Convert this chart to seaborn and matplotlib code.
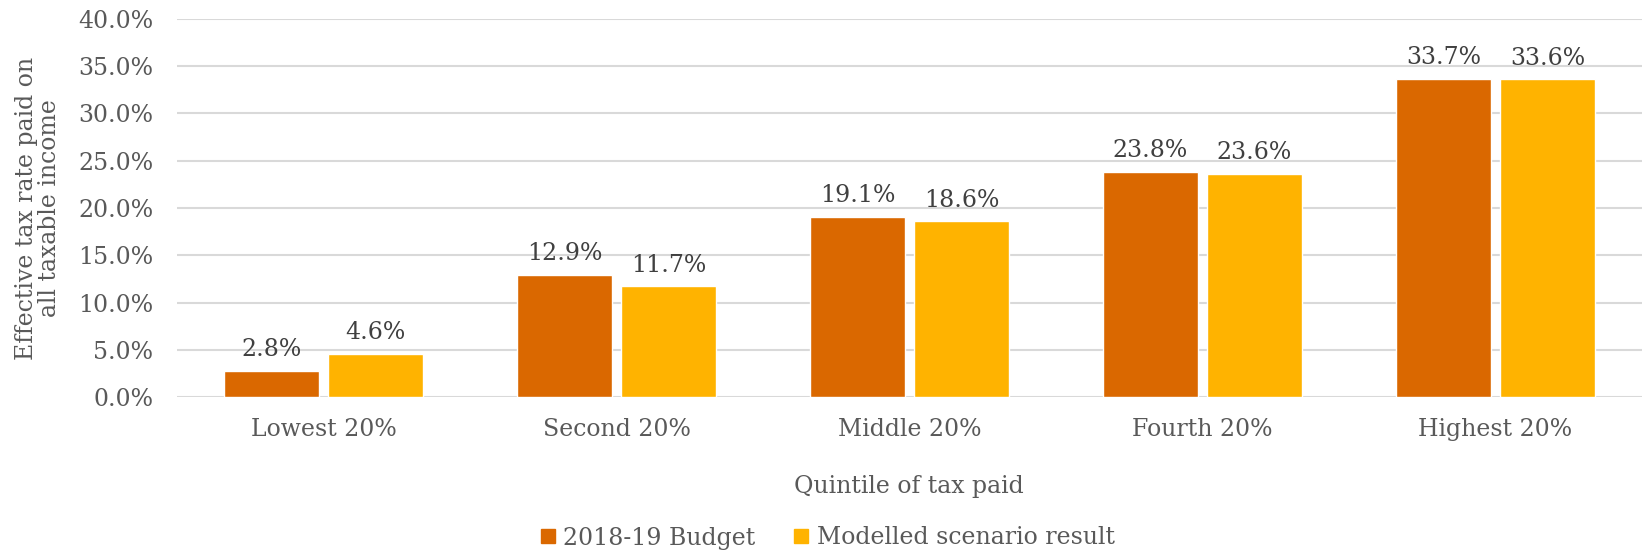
import matplotlib
matplotlib.use("Agg")
import matplotlib.pyplot as plt
import seaborn as sns
import pandas as pd
from matplotlib.ticker import FuncFormatter, MultipleLocator
from matplotlib.lines import Line2D

quintiles = ["Lowest 20%", "Second 20%", "Middle 20%", "Fourth 20%", "Highest 20%"]
series_names = ["2018-19 Budget", "Modelled scenario result"]
budget_2018_19 = [2.8, 12.9, 19.1, 23.8, 33.7]
modelled_scenario = [4.6, 11.7, 18.6, 23.6, 33.6]
colors = ["#DA6800", "#FFB300"]

df = pd.DataFrame({
    "Quintile": quintiles * 2,
    "Series": [series_names[0]] * len(quintiles) + [series_names[1]] * len(quintiles),
    "Rate": budget_2018_19 + modelled_scenario,
})

sns.set_theme(style="white")
plt.rcParams["font.family"] = ["DejaVu Serif"]

text_gray = "#595959"
label_dark = "#404040"
fs = 17

fig = plt.figure(figsize=(16.45, 5.52), dpi=100)
ax = fig.add_axes([177 / 1645, 1 - 397 / 552, (1642 - 177) / 1645, (397 - 19) / 552])

sns.barplot(data=df, x="Quintile", y="Rate", hue="Series", order=quintiles,
            hue_order=series_names, palette=colors, width=0.71, gap=0.096,
            saturation=1, ax=ax, legend=False)

ax.set_ylim(0, 40)
ax.yaxis.set_major_locator(MultipleLocator(5))
ax.yaxis.set_major_formatter(FuncFormatter(lambda v, p: f"{v:.1f}%"))
ax.grid(axis="y", color="#D9D9D9", linewidth=1.5)
ax.set_axisbelow(True)
for s in ax.spines.values():
    s.set_visible(False)

ax.tick_params(axis="both", length=0, labelsize=fs, labelcolor=text_gray)
ax.tick_params(axis="y", pad=17)
ax.tick_params(axis="x", pad=15)

for cont in ax.containers:
    ax.bar_label(cont, fmt="%.1f%%", padding=7, fontsize=fs, color=label_dark)

ax.set_xlabel("")
ax.set_ylabel("")
fig.text(909 / 1645, 1 - 487 / 552, "Quintile of tax paid", fontsize=fs,
         color=text_gray, ha="center", va="center")
fig.text(38 / 1645, 1 - 208 / 552, "Effective tax rate paid on\nall taxable income",
         fontsize=fs, color=text_gray, ha="center", va="center", rotation=90,
         linespacing=1.05)

handles = [Line2D([0], [0], marker="s", linestyle="none", markersize=10,
                  markerfacecolor=c, markeredgecolor=c) for c in colors]
fig.legend(handles, series_names, loc="center", bbox_to_anchor=(827 / 1645, 1 - 538 / 552),
           ncol=2, frameon=False, fontsize=fs, labelcolor=text_gray,
           handletextpad=0.3, columnspacing=1.6, handlelength=0.7)

fig.savefig("out.png", dpi=100)
